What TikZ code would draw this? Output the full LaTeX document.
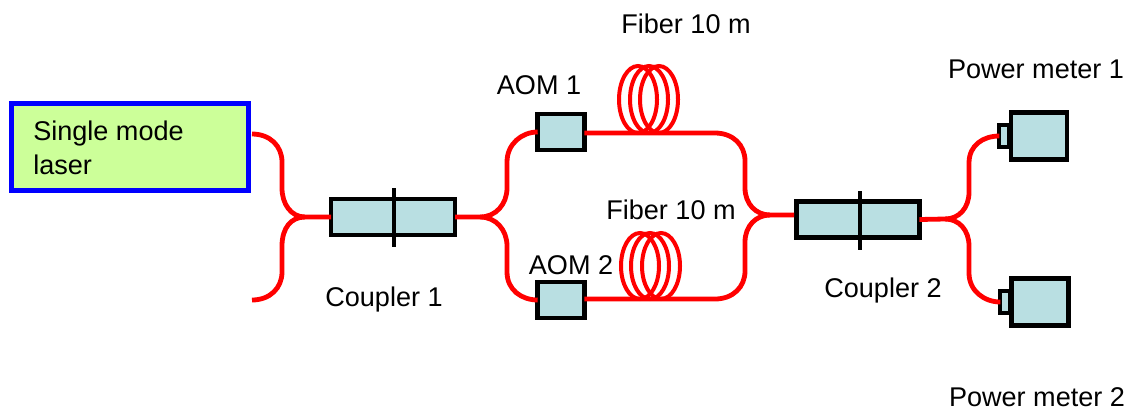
\documentclass[tikz,border=0pt]{standalone}
\usepackage{fontspec}
\setmainfont{Liberation Sans}
\definecolor{boxfill}{RGB}{185,223,226}
\definecolor{laserfill}{RGB}{204,255,153}
\definecolor{fiberred}{RGB}{255,0,0}
\definecolor{laserblue}{RGB}{0,0,255}
\tikzset{
  unit/.style={draw=black,line width=3.7pt,fill=boxfill,inner sep=0pt,outer sep=0pt},
  laserbox/.style={draw=laserblue,line width=3.7pt,fill=laserfill,inner sep=0pt,outer sep=0pt,minimum width=177.5pt,minimum height=65pt},
  coupler/.style={unit,minimum width=93pt,minimum height=27pt},
  aom/.style={unit,minimum width=35pt,minimum height=27pt},
  meter/.style={unit,minimum width=42pt,minimum height=35pt},
  port/.style={unit,line width=2.8pt,minimum width=7pt,minimum height=16pt},
  divider/.style={draw=black,line width=3.7pt},
  fiber/.style={draw=fiberred,line width=3.6pt,line cap=butt},
  coil/.style={draw=fiberred,line width=3pt},
  label/.style={font=\fontsize{20.3pt}{24pt}\selectfont,text=black,inner sep=0pt}
}
\begin{document}
\begin{tikzpicture}[x=0.75pt,y=-0.75pt]
\useasboundingbox (0,0) rectangle (1134,412);
% devices
\node[laserbox] (laser) at (130,147) {};
\node[coupler] (c1) at (393,217) {};
\node[coupler,minimum width=92pt] (c2) at (858,219.5) {};
\node[aom] (aom1) at (561,132) {};
\node[aom] (aom2) at (561,300) {};
\node[port] (p1) at (1004,136) {};
\node[port] (p2) at (1005,302) {};
\node[meter] (pm1) at (1039,136) {};
\node[meter,minimum width=43pt] (pm2) at (1040,302) {};
\draw[divider] (394,188) coordinate (d1a) -- (394,247) coordinate (d1b);
\draw[divider] (860,191) coordinate (d2a) -- (860,250) coordinate (d2b);
% coils
\foreach \c in {638,649,659} \draw[coil] (\c,99.5) ellipse [x radius=19,y radius=33.5];
\foreach \c in {640,650,661} \draw[coil] (\c,266) ellipse [x radius=19,y radius=33];
% junctions and free ends
\coordinate (j1) at (305,217);
\coordinate (j2) at (480,217);
\coordinate (j3) at (770,215);
\coordinate (j4) at (945,219);
\coordinate (laserout) at (252,134);
\coordinate (free) at (252,300);
\coordinate (c2in) at (794,215);
% fibers
\draw[fiber] (laserout) .. controls +(18,0) and +(0,-16) .. (282,162) -- (282,188) .. controls +(0,16) and +(-14,0) .. (j1) -- (c1.west);
\draw[fiber] (free) .. controls +(18,0) and +(0,16) .. (282,272) -- (282,246) .. controls +(0,-18) and +(-14,0) .. (j1);
\draw[fiber] (c1.east) -- (j2) .. controls +(16,0) and +(0,16) .. (507,188) -- (507,162) .. controls +(0,-18) and +(-16,0) .. (aom1.west);
\draw[fiber] (j2) .. controls +(16,0) and +(0,-16) .. (507,246) -- (507,272) .. controls +(0,18) and +(-16,0) .. (aom2.west);
\draw[fiber] (aom1.east) ++(0,1) -- (715,133) .. controls +(18,0) and +(0,-16) .. (745,161) -- (745,188) .. controls +(0,16) and +(-14,0) .. (j3) -- (c2in);
\draw[fiber] (aom2.east) ++(0,-1) -- (715,299) .. controls +(18,0) and +(0,16) .. (745,271) -- (745,242) .. controls +(0,-16) and +(-14,0) .. (j3);
\draw[fiber] (c2.east) -- (j4) .. controls +(14,0) and +(0,16) .. (969,192) -- (969,163) .. controls +(0,-18) and +(-16,0) .. (p1.west);
\draw[fiber] (j4) .. controls +(14,0) and +(0,-16) .. (969,246) -- (969,273) .. controls +(0,18) and +(-16,0) .. (p2.west);
% labels
\node[label,anchor=west] (t1) at (33,133) {Single mode};
\node[label,anchor=west] (t2) at (33,165) {laser};
\node[label] (t3) at (686,24) {Fiber 10 m};
\node[label] (t4) at (539,85) {AOM 1};
\node[label] (t5) at (671,210) {Fiber 10 m};
\node[label] (t6) at (571,265) {AOM 2};
\node[label] (t7) at (384,299) {Coupler 1};
\node[label] (t8) at (883,290) {Coupler 2};
\node[label] (t9) at (1036,69) {Power meter 1};
\node[label] (t10) at (1037,397) {Power meter 2};
\end{tikzpicture}
\end{document}
